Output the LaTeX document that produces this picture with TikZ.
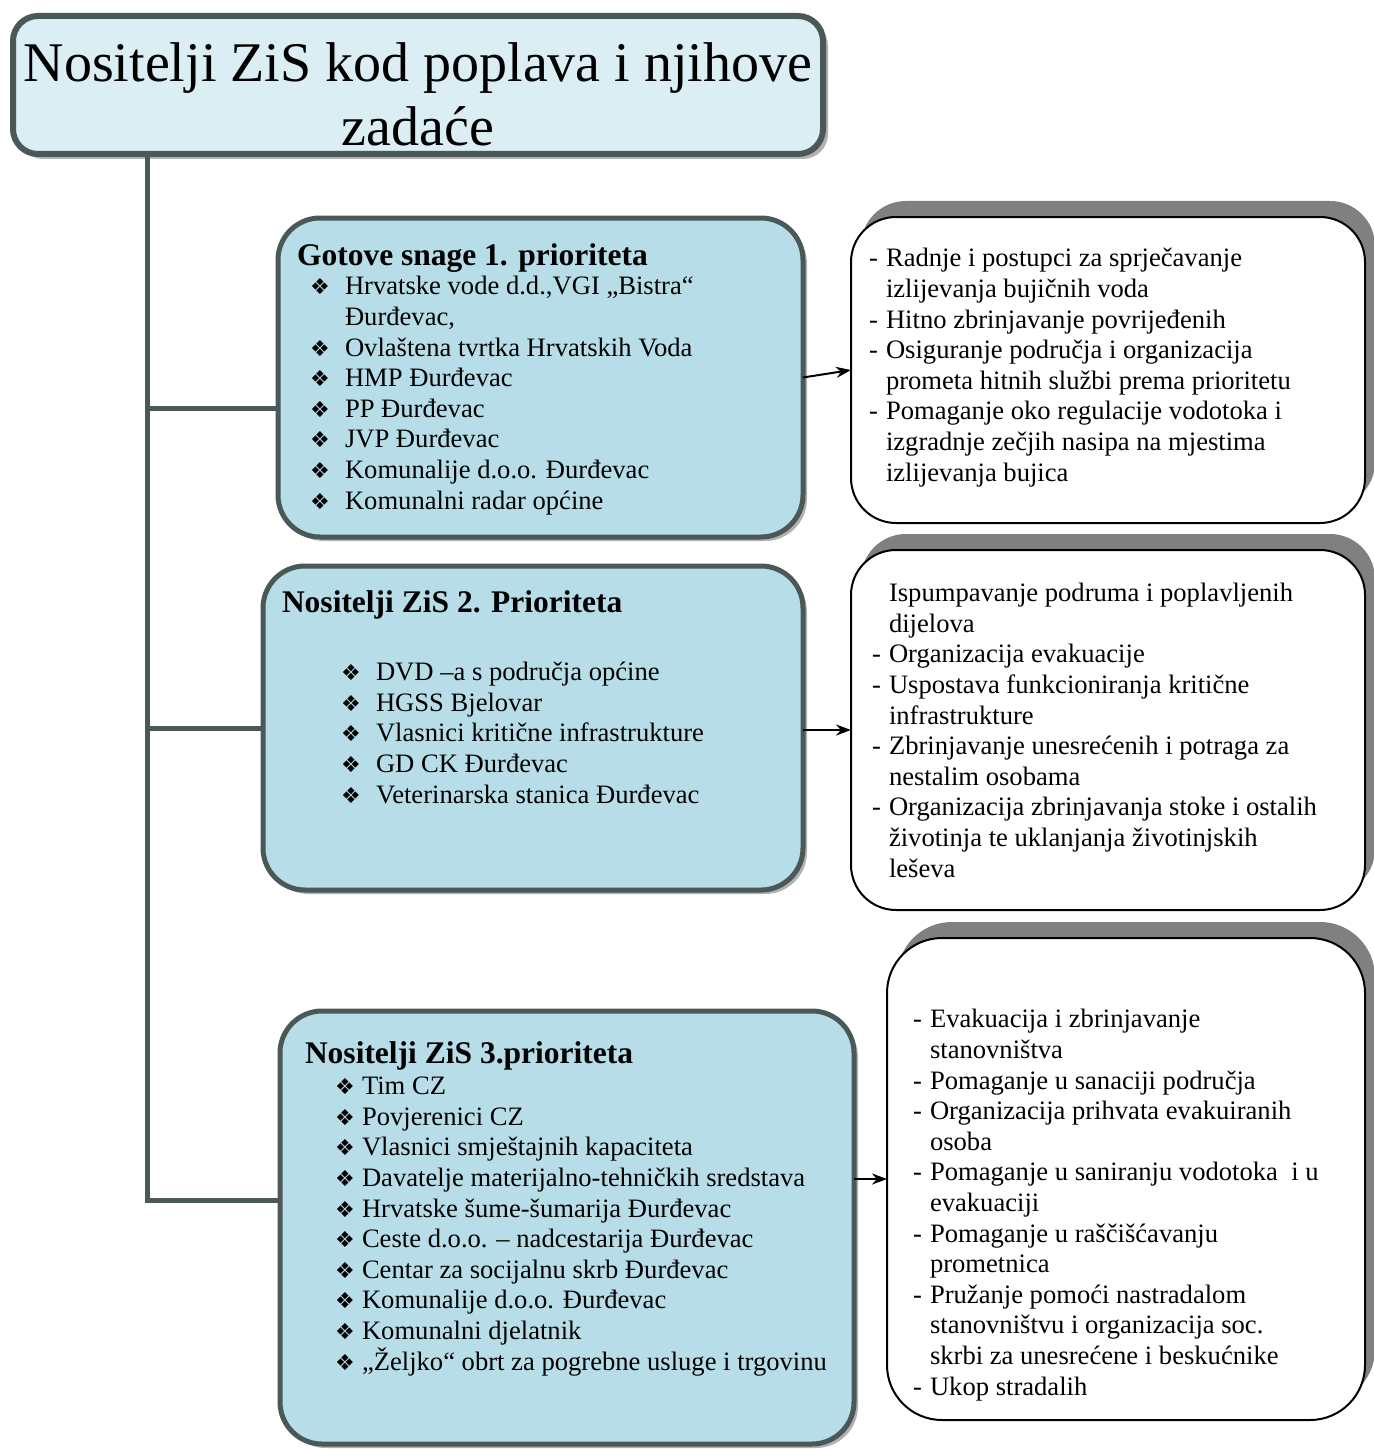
\documentclass[tikz,border=0pt]{standalone}
\usepackage{fontspec}
\setmainfont{Liberation Serif}
\newfontfamily\symfont{DejaVu Sans}
\usetikzlibrary{arrows.meta,shadows}

\definecolor{framegray}{RGB}{74,88,88}
\definecolor{prioblue}{RGB}{183,222,232}
\definecolor{titleblue}{RGB}{218,238,243}
\definecolor{shadegray}{RGB}{128,128,128}

\newcommand{\bul}[1]{\makebox[#1][l]{\symfont\fontsize{22}{24}\selectfont ❖}}
\newcommand{\crt}{\makebox[17pt][l]{-}}
\newcommand{\ind}[1]{\hspace*{#1}}

\begin{document}
\begin{tikzpicture}[x=1pt, y=-1pt, >={Stealth[length=15pt,width=11pt]},
                    every node/.style={inner sep=0pt, outer sep=0pt},
                    prio/.style={draw=framegray, line width=5pt, fill=prioblue, rounded corners=42pt,
                      anchor=north west, drop shadow={shadow xshift=4pt, shadow yshift=-4pt,
                      fill=gray!60, opacity=1}},
                    task/.style={draw=black, line width=2pt, fill=white, rounded corners=45pt,
                      anchor=north west, drop shadow={shadow xshift=10pt, shadow yshift=16pt,
                      fill=shadegray, opacity=1}},
                    hd/.style={font=\bfseries\fontsize{31.5}{34}\selectfont, anchor=base west},
                    txt/.style={font=\fontsize{26.6}{30.6}\selectfont, align=left, anchor=base west},
                    branch/.style={draw=framegray, line width=5pt},
                    arr/.style={->, draw=black, line width=2pt}]

\useasboundingbox (0,0) rectangle (1373,1450);

% naslov
\node[draw=framegray, line width=6pt, fill=titleblue, rounded corners=25pt, anchor=north west,
      minimum width=810pt, minimum height=138pt,
      drop shadow={shadow xshift=5pt, shadow yshift=-5pt, fill=gray!60, opacity=1}] (title) at (13,16) {};
% (base = zadnji redak)
\node[font=\fontsize{56}{64}\selectfont, align=center, anchor=base] (titletxt) at (418,146)
  {Nositelji ZiS kod poplava i njihove\\zadaće};

% nositelji
\node[prio, minimum width=525pt, minimum height=319pt] (p1) at (278,218) {};
\node[prio, minimum width=540pt, minimum height=324pt] (p2) at (263,566) {};
\node[prio, minimum width=574pt, minimum height=433pt] (p3) at (280,1011) {};

% zadace
\node[task, minimum width=514pt, minimum height=306pt] (t1) at (851,217) {};
\node[task, minimum width=514pt, minimum height=360pt] (t2) at (851,550) {};
\node[task, minimum width=478pt, minimum height=482pt, rounded corners=55pt] (t3) at (887,938) {};

% tekst 1. prioriteta
\node[hd] (p1hd) at (297,265) {Gotove snage 1. prioriteta};
\node[txt] (p1txt) at (310,509) {\bul{35pt}Hrvatske vode d.d.,VGI „Bistra“\\
  \ind{35pt}Đurđevac,\\
  \bul{35pt}Ovlaštena tvrtka Hrvatskih Voda\\
  \bul{35pt}HMP Đurđevac\\
  \bul{35pt}PP Đurđevac\\
  \bul{35pt}JVP Đurđevac\\
  \bul{35pt}Komunalije d.o.o. Đurđevac\\
  \bul{35pt}Komunalni radar općine};

% tekst 2. prioriteta
\node[hd] (p2hd) at (282,612) {Nositelji ZiS 2. Prioriteta};
\node[txt] (p2txt) at (341,803) {\bul{35pt}DVD –a s područja općine\\
  \bul{35pt}HGSS Bjelovar\\
  \bul{35pt}Vlasnici kritične infrastrukture\\
  \bul{35pt}GD CK Đurđevac\\
  \bul{35pt}Veterinarska stanica Đurđevac};

% tekst 3. prioriteta
\node[hd] (p3hd) at (305,1063) {Nositelji ZiS 3.prioriteta};
\node[txt] (p3txt) at (335,1370) {\bul{27pt}Tim CZ\\
  \bul{27pt}Povjerenici CZ\\
  \bul{27pt}Vlasnici smještajnih kapaciteta\\
  \bul{27pt}Davatelje materijalno-tehničkih sredstava\\
  \bul{27pt}Hrvatske šume-šumarija Đurđevac\\
  \bul{27pt}Ceste d.o.o. – nadcestarija Đurđevac\\
  \bul{27pt}Centar za socijalnu skrb Đurđevac\\
  \bul{27pt}Komunalije d.o.o. Đurđevac\\
  \bul{27pt}Komunalni djelatnik\\
  \bul{27pt}„Željko“ obrt za pogrebne usluge i trgovinu};

% tekst zadaca
\node[txt] (t1txt) at (869,481) {\crt Radnje i postupci za sprječavanje\\
  \ind{17pt}izlijevanja bujičnih voda\\
  \crt Hitno zbrinjavanje povrijeđenih\\
  \crt Osiguranje područja i organizacija\\
  \ind{17pt}prometa hitnih službi prema prioritetu\\
  \crt Pomaganje oko regulacije vodotoka i\\
  \ind{17pt}izgradnje zečjih nasipa na mjestima\\
  \ind{17pt}izlijevanja bujica};
\node[txt] (t2txt) at (872,877) {\ind{17pt}Ispumpavanje podruma i poplavljenih\\
  \ind{17pt}dijelova\\
  \crt Organizacija evakuacije\\
  \crt Uspostava funkcioniranja kritične\\
  \ind{17pt}infrastrukture\\
  \crt Zbrinjavanje unesrećenih i potraga za\\
  \ind{17pt}nestalim osobama\\
  \crt Organizacija zbrinjavanja stoke i ostalih\\
  \ind{17pt}životinja te uklanjanja životinjskih\\
  \ind{17pt}leševa};
\node[txt] (t3txt) at (913,1395) {\crt Evakuacija i zbrinjavanje\\
  \ind{17pt}stanovništva\\
  \crt Pomaganje u sanaciji područja\\
  \crt Organizacija prihvata evakuiranih\\
  \ind{17pt}osoba\\
  \crt Pomaganje u saniranju vodotoka \ i u\\
  \ind{17pt}evakuaciji\\
  \crt Pomaganje u raščišćavanju\\
  \ind{17pt}prometnica\\
  \crt Pružanje pomoći nastradalom\\
  \ind{17pt}stanovništvu i organizacija soc.\\
  \ind{17pt}skrbi za unesrećene i beskućnike\\
  \crt Ukop stradalih};

% veze
\coordinate (c1) at (147,408);
\coordinate (c2) at (147,728);
\coordinate (c3) at (147,1200);
\draw[branch] (title.south -| c3) -- (c3) -- (c3 -| p3.west);
\draw[branch] (c1) -- (c1 -| p1.west);
\draw[branch] (c2) -- (c2 -| p2.west);

\path
(p1.east) edge[arr] (t1.west)
(p2.east |- t2.west) edge[arr] (t2.west)
(p3.east |- t3.west) edge[arr] (t3.west);
\end{tikzpicture}
\end{document}
